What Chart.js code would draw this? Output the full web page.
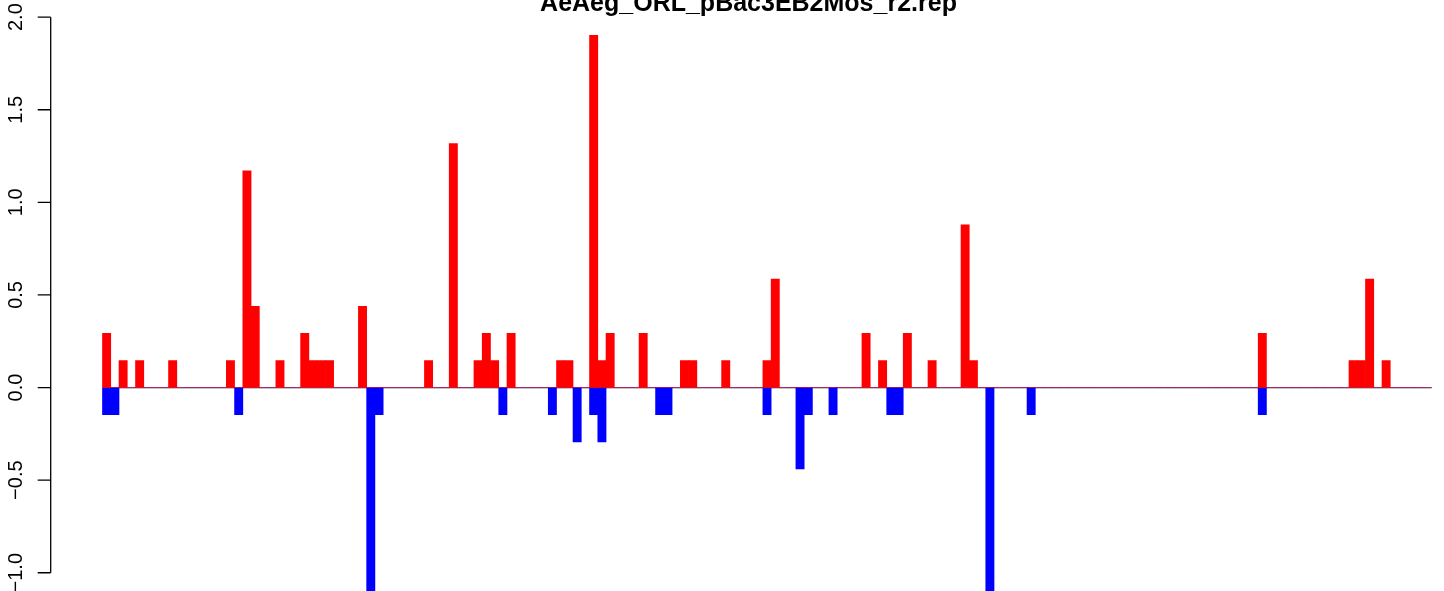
<!DOCTYPE html>
<html>
<head>
<meta charset="utf-8">
<title>AeAeg_ORL_pBac3EB2Mos_r2.rep</title>
<script src="https://cdn.jsdelivr.net/npm/chart.js@4/dist/chart.umd.min.js"></script>
<style>
  html, body { margin: 0; padding: 0; background: #fff; overflow: hidden; }
  #wrap { width: 1444px; height: 591px; overflow: hidden; position: relative; }
  canvas { position: absolute; left: 0; top: 0; }
</style>
</head>
<body>
<div id="wrap"><canvas id="chart" width="1520" height="660"></canvas></div>
<script>
// ---- data (one value per bar) ----
const chartTitle = 'AeAeg_ORL_pBac3EB2Mos_r2.rep';

const upValues = [
  0.293, 0, 0.146, 0, 0.146, 0, 0, 0, 0.146, 0,   0, 0, 0, 0, 0, 0.146, 0, 1.170, 0.439, 0,
  0, 0.146, 0, 0, 0.293, 0.146, 0.146, 0.146, 0, 0,   0, 0.439, 0, 0, 0, 0, 0, 0, 0, 0.146,
  0, 0, 1.317, 0, 0, 0.146, 0.293, 0.146, 0, 0.293,   0, 0, 0, 0, 0, 0.146, 0.146, 0, 0, 1.902,
  0.146, 0.293, 0, 0, 0, 0.293, 0, 0, 0, 0,   0.146, 0.146, 0, 0, 0, 0.146, 0, 0, 0, 0,
  0.146, 0.585, 0, 0, 0, 0, 0, 0, 0, 0,   0, 0, 0.293, 0, 0.146, 0, 0, 0.293, 0, 0,
  0.146, 0, 0, 0, 0.878, 0.146, 0, 0, 0, 0,   0, 0, 0, 0, 0, 0, 0, 0, 0, 0,
  0, 0, 0, 0, 0, 0, 0, 0, 0, 0,   0, 0, 0, 0, 0, 0, 0, 0, 0, 0,
  0.293, 0, 0, 0, 0, 0, 0, 0, 0, 0,   0, 0.146, 0.146, 0.585, 0, 0.146, 0, 0, 0, 0,
  0
];

const downValues = [
  -0.146, -0.146, 0, 0, 0, 0, 0, 0, 0, 0,   0, 0, 0, 0, 0, 0, -0.146, 0, 0, 0,
  0, 0, 0, 0, 0, 0, 0, 0, 0, 0,   0, 0, -1.170, -0.146, 0, 0, 0, 0, 0, 0,
  0, 0, 0, 0, 0, 0, 0, 0, -0.146, 0,   0, 0, 0, 0, -0.146, 0, 0, -0.293, 0, -0.146,
  -0.293, 0, 0, 0, 0, 0, 0, -0.146, -0.146, 0,   0, 0, 0, 0, 0, 0, 0, 0, 0, 0,
  -0.146, 0, 0, 0, -0.439, -0.146, 0, 0, -0.146, 0,   0, 0, 0, 0, 0, -0.146, -0.146, 0, 0, 0,
  0, 0, 0, 0, 0, 0, 0, -1.170, 0, 0,   0, 0, -0.146, 0, 0, 0, 0, 0, 0, 0,
  0, 0, 0, 0, 0, 0, 0, 0, 0, 0,   0, 0, 0, 0, 0, 0, 0, 0, 0, 0,
  -0.146, 0, 0, 0, 0, 0, 0, 0, 0, 0,   0, 0, 0, 0, 0, 0, 0, 0, 0, 0,
  0
];

const yTickValues = [-1.0, -0.5, 0.0, 0.5, 1.0, 1.5, 2.0];
const yTickLabels = ['\u22121.0', '\u22120.5', '0.0', '0.5', '1.0', '1.5', '2.0'];

const nBars = upValues.length;

// R-like base graphics: y axis with rotated labels, grey baseline, bold title
const rAxes = {
  id: 'rAxes',
  beforeDatasetsDraw(chart) {
    const { ctx, scales: { x, y } } = chart;
    ctx.save();
    ctx.strokeStyle = '#8a8a8a';
    ctx.lineWidth = 1.2;
    ctx.beginPath();
    ctx.moveTo(x.getPixelForValue(0), y.getPixelForValue(0) + 0.3);
    ctx.lineTo(x.getPixelForValue(nBars), y.getPixelForValue(0) + 0.3);
    ctx.stroke();
    ctx.restore();
  },
  afterDraw(chart) {
    const { ctx, chartArea, scales: { y } } = chart;
    const ax = chartArea.left;
    ctx.save();
    ctx.strokeStyle = '#000';
    ctx.lineWidth = 1.3;
    ctx.beginPath();
    ctx.moveTo(ax, y.getPixelForValue(yTickValues[0]));
    ctx.lineTo(ax, y.getPixelForValue(yTickValues[yTickValues.length - 1]));
    yTickValues.forEach(v => {
      const py = y.getPixelForValue(v);
      ctx.moveTo(ax, py);
      ctx.lineTo(ax - 13, py);
    });
    ctx.stroke();

    ctx.fillStyle = '#000';
    ctx.font = '20px "Liberation Sans", Arial, sans-serif';
    ctx.textAlign = 'center';
    ctx.textBaseline = 'alphabetic';
    yTickValues.forEach((v, i) => {
      ctx.save();
      ctx.translate(ax - 29, y.getPixelForValue(v));
      ctx.rotate(-Math.PI / 2);
      ctx.fillText(yTickLabels[i], 0, 0);
      ctx.restore();
    });

    ctx.font = 'bold 25px "Liberation Sans", Arial, sans-serif';
    ctx.fillText(chartTitle, 748.5, 11);
    ctx.restore();
  }
};

new Chart(document.getElementById('chart'), {
  type: 'bar',
  data: {
    datasets: [
      {
        label: 'up',
        data: upValues.map((v, i) => ({ x: i + 0.5, y: v })),
        backgroundColor: '#ff0000'
      },
      {
        label: 'down',
        data: downValues.map((v, i) => ({ x: i + 0.5, y: v })),
        backgroundColor: '#0000ff'
      }
    ]
  },
  options: {
    responsive: false,
    animation: false,
    grouped: false,
    borderWidth: 0,
    categoryPercentage: 1,
    barPercentage: 1,
    layout: { padding: { left: 50.7, top: 12.5, right: 35.3, bottom: 33 } },
    plugins: { legend: { display: false }, tooltip: { enabled: false }, title: { display: false } },
    scales: {
      x: { type: 'linear', display: false, offset: false, min: -6.275, max: 167.44, grid: { display: false } },
      y: { display: false, min: -1.293, max: 2.025, grid: { display: false } }
    }
  },
  plugins: [rAxes]
});
</script>
</body>
</html>
